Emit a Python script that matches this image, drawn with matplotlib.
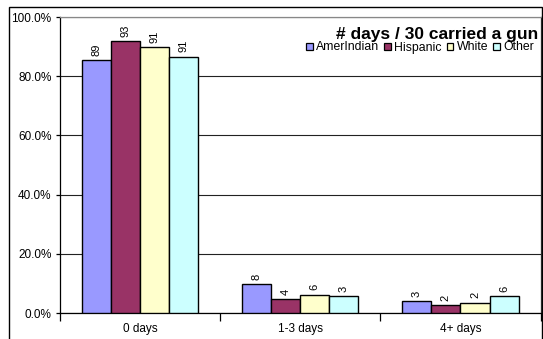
import matplotlib
matplotlib.use("Agg")
import matplotlib.pyplot as plt
import numpy as np
from matplotlib.patches import Rectangle
from matplotlib.ticker import PercentFormatter, FixedLocator

plt.rcParams['font.family'] = ['Liberation Sans', 'DejaVu Sans']

categories = ["0 days", "1-3 days", "4+ days"]
series_names = ["AmerIndian", "Hispanic", "White", "Other"]
colors = ["#9999FF", "#993366", "#FFFFCC", "#CCFFFF"]

# Percent of each group (bar heights)
amerindian_pct = [85.5, 9.8, 4.0]
hispanic_pct = [92.0, 4.8, 2.6]
white_pct = [89.9, 6.2, 3.5]
other_pct = [86.6, 5.8, 5.8]

# Respondent counts printed above the bars
amerindian_n = [89, 8, 3]
hispanic_n = [93, 4, 2]
white_n = [91, 6, 2]
other_n = [91, 3, 6]

yticks = [0, 20, 40, 60, 80, 100]

pcts = [amerindian_pct, hispanic_pct, white_pct, other_pct]
counts = [amerindian_n, hispanic_n, white_n, other_n]

W, H = 543, 339
fig = plt.figure(figsize=(W / 100, H / 100), dpi=100)
fig.patch.set_facecolor("white")


def fx(px):
    return px / W


def fy(py):
    return 1 - py / H


# outer chart frame
fig.add_artist(Rectangle((fx(9), -0.05), fx(541.5 - 9), 1.05 - 7 / H,
                         transform=fig.transFigure, fill=False,
                         edgecolor="black", linewidth=1.0))

ax = fig.add_axes([fx(60), fy(313), fx(540.5 - 60), (313 - 17) / H])

n_series = len(series_names)
gap = 1.5
bw = 1.0 / (n_series + gap)
x = np.arange(len(categories))
for i, (name, vals, ns, c) in enumerate(zip(series_names, pcts, counts, colors)):
    pos = x - 0.5 + bw * (gap / 2 + i + 0.5)
    bars = ax.bar(pos, vals, width=bw, color=c, edgecolor="black",
                  linewidth=1.0, label=name, zorder=3)
    for b, n in zip(bars, ns):
        ax.annotate(str(n), (b.get_x() + b.get_width() / 2, b.get_height()),
                    xytext=(0, 3), textcoords="offset points",
                    rotation=90, ha="center", va="bottom", fontsize=8)

ax.set_xlim(-0.5, len(categories) - 0.5)
ax.set_ylim(0, 100)
ax.set_yticks(yticks)
ax.yaxis.set_major_formatter(PercentFormatter(decimals=1))
ax.grid(axis="y", color="#222222", linewidth=0.8, zorder=0)

ax.set_xticks(x)
ax.set_xticklabels(categories)
ax.xaxis.set_minor_locator(FixedLocator(np.arange(len(categories) + 1) - 0.5))
ax.tick_params(axis="x", which="major", length=0, pad=7, labelsize=8.5)
ax.tick_params(axis="x", which="minor", length=6, width=0.9, direction="out")
ax.tick_params(axis="y", length=3, width=0.9, pad=3, labelsize=8.5)

for s in ["left", "bottom"]:
    ax.spines[s].set_color("black")
    ax.spines[s].set_linewidth(0.9)
ax.spines["top"].set_color("#888888")
ax.spines["right"].set_color("#333333")
ax.spines["top"].set_linewidth(0.9)
ax.spines["right"].set_linewidth(0.9)

fig.text(fx(538), fy(38.5), "# days / 30 carried a gun", ha="right",
         va="baseline", fontsize=12.5, fontweight="bold")

# legend row: small outlined squares followed by the series names
renderer = fig.canvas.get_renderer()
cursor = 306.0
for name, c in zip(series_names, colors):
    fig.add_artist(Rectangle((fx(cursor), fy(50.0)), fx(6.8), 6.8 / H,
                             transform=fig.transFigure, facecolor=c,
                             edgecolor="black", linewidth=0.9))
    t = fig.text(fx(cursor + 10), fy(50.5), name, ha="left", va="baseline",
                 fontsize=8.8)
    cursor += 10 + t.get_window_extent(renderer).width + 5

fig.savefig("out.png", dpi=100, facecolor="white")
